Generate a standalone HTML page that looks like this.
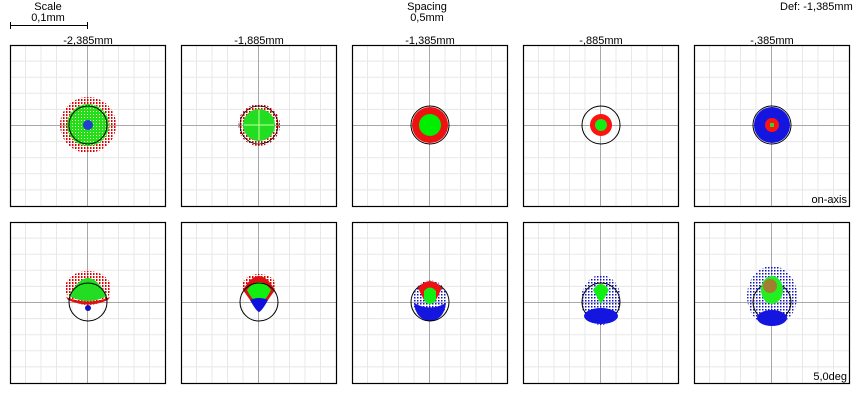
<!DOCTYPE html>
<html><head><meta charset="utf-8"><style>
html,body{margin:0;padding:0;background:#fff;}
svg{display:block;font-family:"Liberation Sans",sans-serif;font-size:11px;}
</style></head><body>
<svg width="863" height="400" viewBox="0 0 863 400" xmlns="http://www.w3.org/2000/svg">
<defs>
<pattern id="rd" width="3" height="3" patternUnits="userSpaceOnUse"><rect width="1.5" height="2" fill="#e00000"/></pattern>
<pattern id="bd" width="3" height="3" patternUnits="userSpaceOnUse"><rect width="1.5" height="1.5" fill="#1010c0"/></pattern>
<pattern id="gd" width="3" height="3" patternUnits="userSpaceOnUse"><rect width="3" height="3" fill="#22dd22"/><rect width="1" height="1" fill="#ffff80"/></pattern>
<g id="grid">
<rect x="0" y="0" width="155" height="161" fill="#fff"/>
<g stroke="#e8e8e8" stroke-width="1">
<path d="M15.5 0V161M31 0V161M46.5 0V161M62 0V161M93 0V161M108.5 0V161M124 0V161M139.5 0V161"/>
<path d="M0 16.1H155M0 32.2H155M0 48.3H155M0 64.4H155M0 96.6H155M0 112.7H155M0 128.8H155M0 144.9H155"/>
</g>
<path d="M77.5 0V161M0 80.5H155" stroke="#a8a8a8" stroke-width="1"/>
</g>
</defs>
<text x="48" y="10" text-anchor="middle">Scale</text>
<text x="48" y="21" text-anchor="middle">0,1mm</text>
<path d="M10.5 22V29M10.5 25.5H87.5M87.5 22V29" stroke="#000" fill="none"/>
<text x="427" y="10" text-anchor="middle">Spacing</text>
<text x="427" y="21" text-anchor="middle">0,5mm</text>
<text x="780" y="10">Def: -1,385mm</text>
<text x="88" y="44" text-anchor="middle">-2,385mm</text>
<text x="259" y="44" text-anchor="middle">-1,885mm</text>
<text x="430" y="44" text-anchor="middle">-1,385mm</text>
<text x="601" y="44" text-anchor="middle">-,885mm</text>
<text x="772" y="44" text-anchor="middle">-,385mm</text>
<g transform="translate(10,45)"><use href="#grid"/></g>
<g transform="translate(181,45)"><use href="#grid"/></g>
<g transform="translate(352,45)"><use href="#grid"/></g>
<g transform="translate(523,45)"><use href="#grid"/></g>
<g transform="translate(694,45)"><use href="#grid"/></g>
<g transform="translate(10,222)"><use href="#grid"/></g>
<g transform="translate(181,222)"><use href="#grid"/></g>
<g transform="translate(352,222)"><use href="#grid"/></g>
<g transform="translate(523,222)"><use href="#grid"/></g>
<g transform="translate(694,222)"><use href="#grid"/></g>

<g>
<circle cx="88" cy="125" r="28" fill="url(#rd)"/>
<circle cx="88" cy="125" r="21" fill="url(#gd)"/>
<circle cx="88" cy="125" r="19" fill="none" stroke="#000"/>
<circle cx="88" cy="125" r="5" fill="#2040d0"/>
</g>
<g>
<circle cx="259" cy="125" r="21" fill="url(#rd)"/>
<circle cx="259" cy="125" r="19" fill="none" stroke="#000" stroke-width="0.8"/>
<circle cx="259" cy="125" r="16" fill="#22dd22"/>
<path d="M259 110V140M244 125H274" stroke="#ccff99" stroke-width="1"/>
</g>
<g>
<circle cx="430" cy="125" r="19" fill="none" stroke="#000"/>
<circle cx="430" cy="125" r="18" fill="#ee1111"/>
<circle cx="430" cy="125" r="11" fill="#00ee00"/>
</g>
<g>
<circle cx="601" cy="125" r="19" fill="none" stroke="#000"/>
<circle cx="601" cy="125" r="11" fill="#ff1111"/>
<circle cx="601" cy="125" r="6" fill="#11ee11"/>
</g>
<g>
<circle cx="772" cy="125" r="19" fill="none" stroke="#000"/>
<circle cx="772" cy="125" r="18" fill="#1515e0"/>
<circle cx="772" cy="125" r="7" fill="#ff1111"/>
<rect x="770" y="123" width="4" height="4" fill="#22dd22"/>
</g>
<text x="847" y="203" text-anchor="end">on-axis</text>

<g>
<ellipse cx="88" cy="288" rx="23" ry="17" fill="url(#rd)"/>
<path d="M69 296Q88 260 107 296Q88 306 69 296Z" fill="#22dd22"/>
<path d="M66 297Q88 306 110 297L108 300Q88 309 68 300Z" fill="#dd1111"/>
<circle cx="88" cy="302" r="19" fill="none" stroke="#000"/>
<circle cx="88" cy="308" r="3" fill="#1010c0"/>
</g>
<g>
<ellipse cx="259" cy="286" rx="17" ry="12" fill="url(#rd)"/>
<path d="M243 290Q259 262 275 290L268 300Q259 310 250 300Z" fill="#dd1111"/>
<path d="M247 290Q259 274 271 290Q265 302 259 303Q253 302 247 290Z" fill="#11ee11"/>
<path d="M250 300Q259 296 268 300Q262 311 259 312Q256 311 250 300Z" fill="#1010dd"/>
<circle cx="259" cy="302" r="19" fill="none" stroke="#000"/>
</g>
<g>
<ellipse cx="430" cy="300" rx="17" ry="20" fill="url(#bd)"/>
<path d="M414 303Q430 312 446 303Q444 320 430 321Q416 320 414 303Z" fill="#1515e0"/>
<circle cx="430" cy="302" r="19" fill="none" stroke="#000"/>
<path d="M418 288Q430 274 442 288L436 300H424Z" fill="#ee1111"/>
<path d="M424 291Q430 284 436 291L436 300Q430 308 424 300Z" fill="#11ee11"/>
</g>
<g>
<ellipse cx="601" cy="300" rx="20" ry="25" fill="url(#bd)"/>
<circle cx="601" cy="302" r="19" fill="none" stroke="#000"/>
<ellipse cx="601" cy="316" rx="17" ry="8" fill="#1515e0"/>
<path d="M593 290Q601 278 609 290L601 304Z" fill="#11ee11"/>
</g>
<g>
<ellipse cx="772" cy="296" rx="25" ry="30" fill="url(#bd)"/>
<circle cx="772" cy="302" r="19" fill="none" stroke="#000"/>
<ellipse cx="772" cy="318" rx="15" ry="8" fill="#1515e0"/>
<ellipse cx="772" cy="290" rx="11" ry="14" fill="#22ee22"/>
<ellipse cx="770" cy="286" rx="7" ry="7" fill="#a08030"/>
</g>
<text x="847" y="380" text-anchor="end">5,0deg</text>

<g fill="none" stroke="#000" stroke-width="1.2">
<rect x="10.5" y="45.5" width="155" height="161"/>
<rect x="181.5" y="45.5" width="155" height="161"/>
<rect x="352.5" y="45.5" width="155" height="161"/>
<rect x="523.5" y="45.5" width="155" height="161"/>
<rect x="694.5" y="45.5" width="155" height="161"/>
<rect x="10.5" y="222.5" width="155" height="161"/>
<rect x="181.5" y="222.5" width="155" height="161"/>
<rect x="352.5" y="222.5" width="155" height="161"/>
<rect x="523.5" y="222.5" width="155" height="161"/>
<rect x="694.5" y="222.5" width="155" height="161"/>
</g>
</svg>
</body></html>
